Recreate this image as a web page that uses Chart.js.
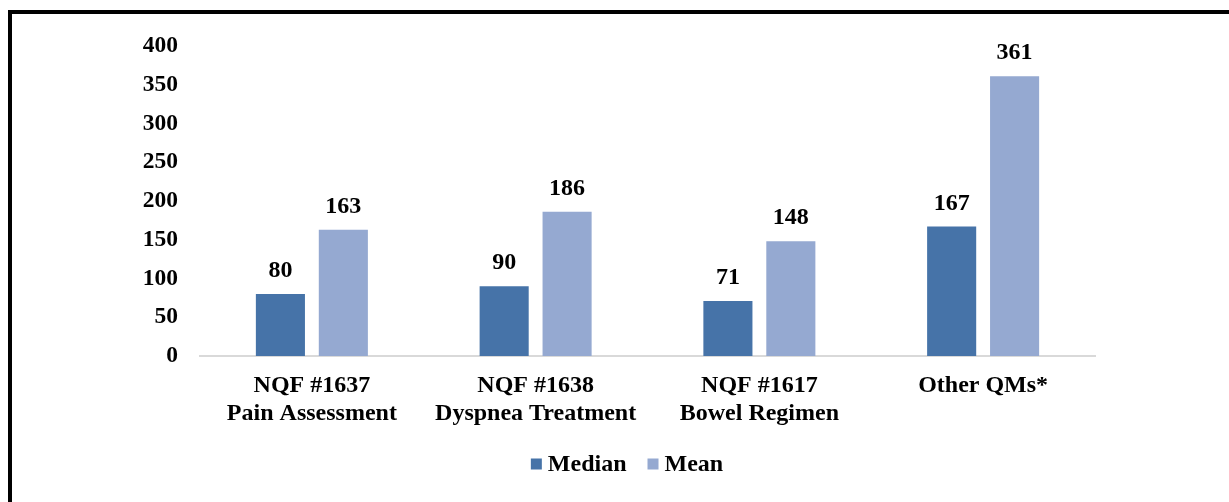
<!DOCTYPE html>
<html>
<head>
<meta charset="utf-8">
<script src="https://cdn.jsdelivr.net/npm/chart.js@4.4.1/dist/chart.umd.min.js"></script>
<style>
  html, body { margin: 0; padding: 0; background: #fff; }
  body { width: 1229px; height: 502px; position: relative; overflow: hidden; }
  #frame {
    position: absolute; left: 8px; top: 10px; width: 1300px; height: 600px;
    border-top: 4px solid #000; border-left: 4px solid #000;
  }
  #wrap { position: absolute; left: 0; top: 0; width: 1229px; height: 502px; }
</style>
</head>
<body>
<div id="frame"></div>
<div id="wrap"><canvas id="qm-chart"></canvas></div>
<script>
const categories = [
  ['NQF #1637', 'Pain Assessment'],
  ['NQF #1638', 'Dyspnea Treatment'],
  ['NQF #1617', 'Bowel Regimen'],
  ['Other QMs*']
];
const medianValues = [80, 90, 71, 167];
const meanValues = [163, 186, 148, 361];
const seriesNames = ['Median', 'Mean'];

const serif = '"Liberation Serif", "Times New Roman", serif';

// writes the value above each bar
const barValues = {
  id: 'barValues',
  afterDatasetsDraw(chart) {
    const ctx = chart.ctx;
    ctx.save();
    ctx.font = 'bold 24px ' + serif;
    ctx.fillStyle = '#000';
    ctx.textAlign = 'center';
    ctx.textBaseline = 'alphabetic';
    chart.data.datasets.forEach((ds, i) => {
      chart.getDatasetMeta(i).data.forEach((bar, j) => {
        ctx.fillText(ds.data[j], bar.x, bar.y - 17);
      });
    });
    ctx.restore();
  }
};

// small square + name for each series, centred under the plot
const seriesKey = {
  id: 'seriesKey',
  afterDraw(chart) {
    const ctx = chart.ctx;
    const box = 11, gap = 6, spacing = 21;
    ctx.save();
    ctx.font = 'bold 24px ' + serif;
    ctx.textBaseline = 'middle';
    ctx.textAlign = 'left';
    const items = chart.data.datasets.map(ds => ({
      text: ds.label, color: ds.backgroundColor, w: ctx.measureText(ds.label).width
    }));
    const total = items.reduce((s, it) => s + box + gap + it.w, 0) + spacing * (items.length - 1);
    let x = 627 - total / 2;
    const y = 464;
    items.forEach(it => {
      ctx.fillStyle = it.color;
      ctx.fillRect(x, y - box / 2, box, box);
      x += box + gap;
      ctx.fillStyle = '#000';
      ctx.fillText(it.text, x, y + 1);
      x += it.w + spacing;
    });
    ctx.restore();
  }
};

new Chart(document.getElementById('qm-chart').getContext('2d'), {
  type: 'bar',
  data: {
    labels: categories,
    datasets: [{
      label: seriesNames[0],
      data: medianValues,
      backgroundColor: '#4673a8'
    }, {
      label: seriesNames[1],
      data: meanValues,
      backgroundColor: '#95a9d1'
    }]
  },
  options: {
    responsive: true,
    maintainAspectRatio: false,
    animation: false,
    datasets: {
      bar: { barPercentage: 0.78, categoryPercentage: 0.5625 }
    },
    layout: { padding: { top: 46, right: 134, bottom: 66, left: 0 } },
    plugins: {
      tooltip: { enabled: false },
      legend: { display: false }
    },
    scales: {
      x: {
        grid: { display: false },
        border: { display: true, color: '#d9d9d9', width: 2 },
        ticks: {
          color: '#000',
          padding: 8,
          maxRotation: 0,
          autoSkip: false,
          font: { family: serif, size: 24, weight: 'bold', lineHeight: 1.17 }
        },
        afterFit(scale) { scale.height = 80; }
      },
      y: {
        min: 0,
        max: 400,
        grid: { display: false, drawTicks: false },
        border: { display: false },
        ticks: {
          stepSize: 50,
          color: '#000',
          padding: 22,
          font: { family: serif, size: 23.5, weight: 'bold' }
        },
        afterFit(scale) { scale.width = 200; }
      }
    }
  },
  plugins: [barValues, seriesKey]
});
</script>
</body>
</html>
